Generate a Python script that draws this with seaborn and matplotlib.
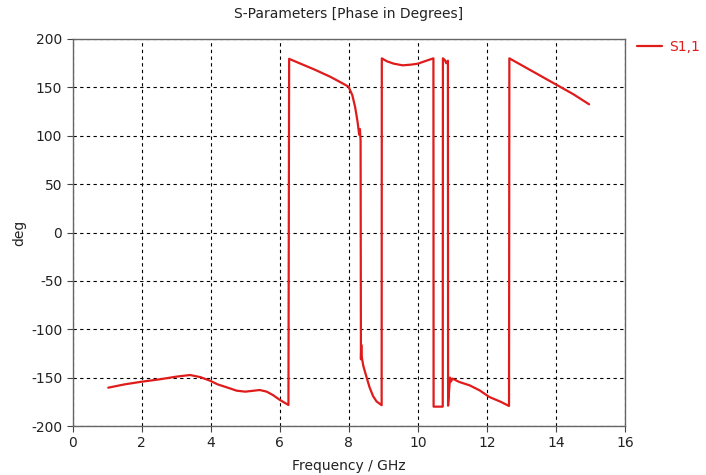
import matplotlib
matplotlib.use("Agg")
import matplotlib.pyplot as plt
import seaborn as sns
import pandas as pd

# S1,1 phase (deg) vs frequency (GHz)
freq = [1.03, 1.5, 2.0, 2.53, 3.0, 3.40, 3.7, 3.98, 4.2, 4.46, 4.75, 5.0, 5.42, 5.62, 5.8, 6.0, 6.25,
        6.27, 6.5, 7.0, 7.46, 7.8, 7.99, 8.1, 8.18, 8.25, 8.30, 8.32, 8.34,
        8.35, 8.36, 8.37, 8.42, 8.5, 8.6, 8.7, 8.8, 8.95,
        8.955, 9.1, 9.3, 9.56, 9.8, 10.0, 10.2, 10.45,
        10.455, 10.72,
        10.725, 10.78, 10.82, 10.87,
        10.875, 10.93, 10.96, 11.0, 11.2, 11.5, 11.78, 12.07, 12.4, 12.64,
        12.65, 13.3, 14.0, 14.5, 14.96]
phase = [-160.4, -157, -154.2, -151.7, -149, -147.3, -149.5, -153.2, -157, -160, -163.5, -164.5, -162.8, -164.5, -168, -173, -178.3,
         179.5, 176, 168.5, 161, 154.5, 150.7, 142, 130, 115, 101, 107, 95,
         -131, -116, -128, -138, -148, -160, -169, -174.5, -178.5,
         180, 177, 174.5, 172.8, 173.5, 174.5, 177, 180,
         -180, -180,
         180, 178.3, 175, 177.6,
         -179, -150, -154, -151, -154.5, -158, -163, -170, -175, -179.3,
         180, 167, 153, 143, 132.5]

labels = ["S1,1"] * len(freq)
df = pd.DataFrame({"freq": freq, "phase": phase, "series": labels})

sns.set_style("white")
plt.rcParams["font.family"] = ["DejaVu Sans"]
plt.rcParams["axes.unicode_minus"] = False

fig = plt.figure(figsize=(7.06, 4.75), dpi=100)
ax = fig.add_axes([72.7 / 706, 1 - 426 / 475, (625 - 72.7) / 706, (426 - 39) / 475])

sns.lineplot(data=df, x="freq", y="phase", hue="series", palette=["#e01b1b"],
             sort=False, estimator=None, linewidth=1.6, ax=ax)

ax.set_xlim(0, 16)
ax.set_ylim(-200, 200)
ax.set_xticks(range(0, 17, 2))
ax.set_yticks(range(-200, 201, 50))
ax.grid(True, color="black", linestyle=(0, (3, 3)), linewidth=0.8)
for s in ax.spines.values():
    s.set_color("#666666")
    s.set_linewidth(1.0)
ax.tick_params(axis="both", direction="out", length=4, width=0.8, color="#444444",
               labelsize=10, colors="#222222", left=True, bottom=True)

ax.set_xlabel("Frequency / GHz", fontsize=10, color="#222222", labelpad=6)
ax.set_ylabel("deg", fontsize=10, color="#222222")
ax.yaxis.set_label_coords(-0.085, 0.5)
ax.set_title("S-Parameters [Phase in Degrees]", fontsize=10, color="#222222", pad=15)

leg = ax.legend(loc="upper left", bbox_to_anchor=(1.0, 1.03), frameon=False,
                handlelength=1.8, handletextpad=0.5, fontsize=10, labelcolor="#e01b1b")

fig.savefig("out.png", dpi=100, facecolor="white")
